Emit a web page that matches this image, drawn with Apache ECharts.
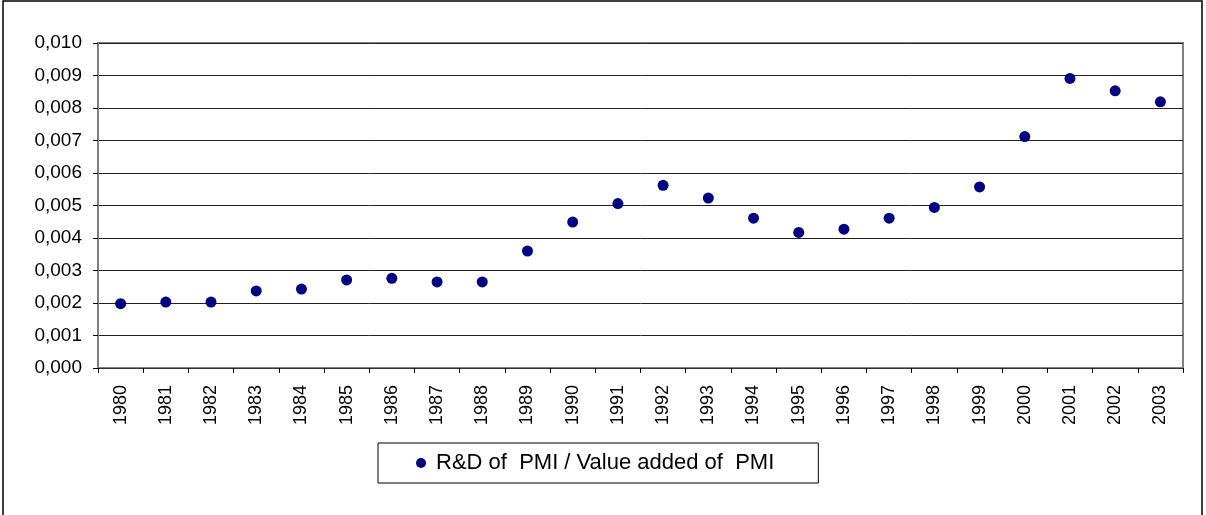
<!DOCTYPE html>
<html>
<head>
<meta charset="utf-8">
<title>R&D of PMI / Value added of PMI</title>
<script src="https://cdn.jsdelivr.net/npm/echarts@6/dist/echarts.min.js"></script>
<style>
  html, body { margin: 0; padding: 0; background: #fff; }
  #main { width: 1206px; height: 515px; }
</style>
</head>
<body>
<div id="main"></div>
<script>
// data
var years = ['1980', '1981', '1982', '1983', '1984', '1985', '1986', '1987', '1988', '1989',
  '1990', '1991', '1992', '1993', '1994', '1995', '1996', '1997', '1998', '1999',
  '2000', '2001', '2002', '2003'];
var ratio = [0.00198, 0.00203, 0.00203, 0.00237, 0.00243, 0.00271, 0.00276, 0.00265, 0.00265, 0.00360,
  0.00449, 0.00506, 0.00562, 0.00523, 0.00461, 0.00417, 0.00427, 0.00461, 0.00494, 0.00557,
  0.00712, 0.00891, 0.00853, 0.00819];
var seriesName = 'R&D of  PMI / Value added of  PMI';

var chart = echarts.init(document.getElementById('main'));
var option = {
  animation: false,
  backgroundColor: '#fff',
  textStyle: { fontFamily: 'Liberation Sans, Arial, sans-serif' },
  // outer frame
  graphic: [{
    type: 'rect',
    shape: { x: 3, y: 1, width: 1199, height: 600 },
    style: { fill: 'none', stroke: '#000', lineWidth: 1.5 },
    silent: true
  }],
  grid: {
    left: 98,
    right: 23,
    top: 43,
    bottom: 147,
    show: true,
    borderColor: '#808080',
    borderWidth: 2
  },
  legend: {
    data: [seriesName],
    left: 378,
    top: 443,
    padding: [9, 44, 9, 38],
    borderColor: '#000',
    borderWidth: 1,
    icon: 'circle',
    itemWidth: 10,
    itemHeight: 10,
    textStyle: { fontSize: 22, color: '#000', padding: [0, 0, 0, 5] }
  },
  xAxis: {
    type: 'category',
    data: years,
    boundaryGap: true,
    axisLine: { lineStyle: { color: '#333', width: 1 } },
    axisTick: { show: true, length: 5, lineStyle: { color: '#000' } },
    axisLabel: { rotate: 90, margin: 17, fontSize: 18, color: '#000' },
    splitLine: { show: false }
  },
  yAxis: {
    type: 'value',
    min: 0,
    max: 0.01,
    interval: 0.001,
    axisLine: { show: true, lineStyle: { color: '#808080', width: 2 } },
    axisTick: { show: true, length: 5, lineStyle: { color: '#000' } },
    axisLabel: {
      margin: 16,
      fontSize: 19,
      color: '#000',
      formatter: function (v) { return v.toFixed(3).replace('.', ','); }
    },
    splitLine: { show: true, lineStyle: { color: '#222', width: 1 } }
  },
  series: [{
    name: seriesName,
    type: 'scatter',
    data: ratio,
    symbol: 'circle',
    symbolSize: 11,
    itemStyle: { color: '#000080', opacity: 1 }
  }]
};
chart.setOption(option);
</script>
</body>
</html>
